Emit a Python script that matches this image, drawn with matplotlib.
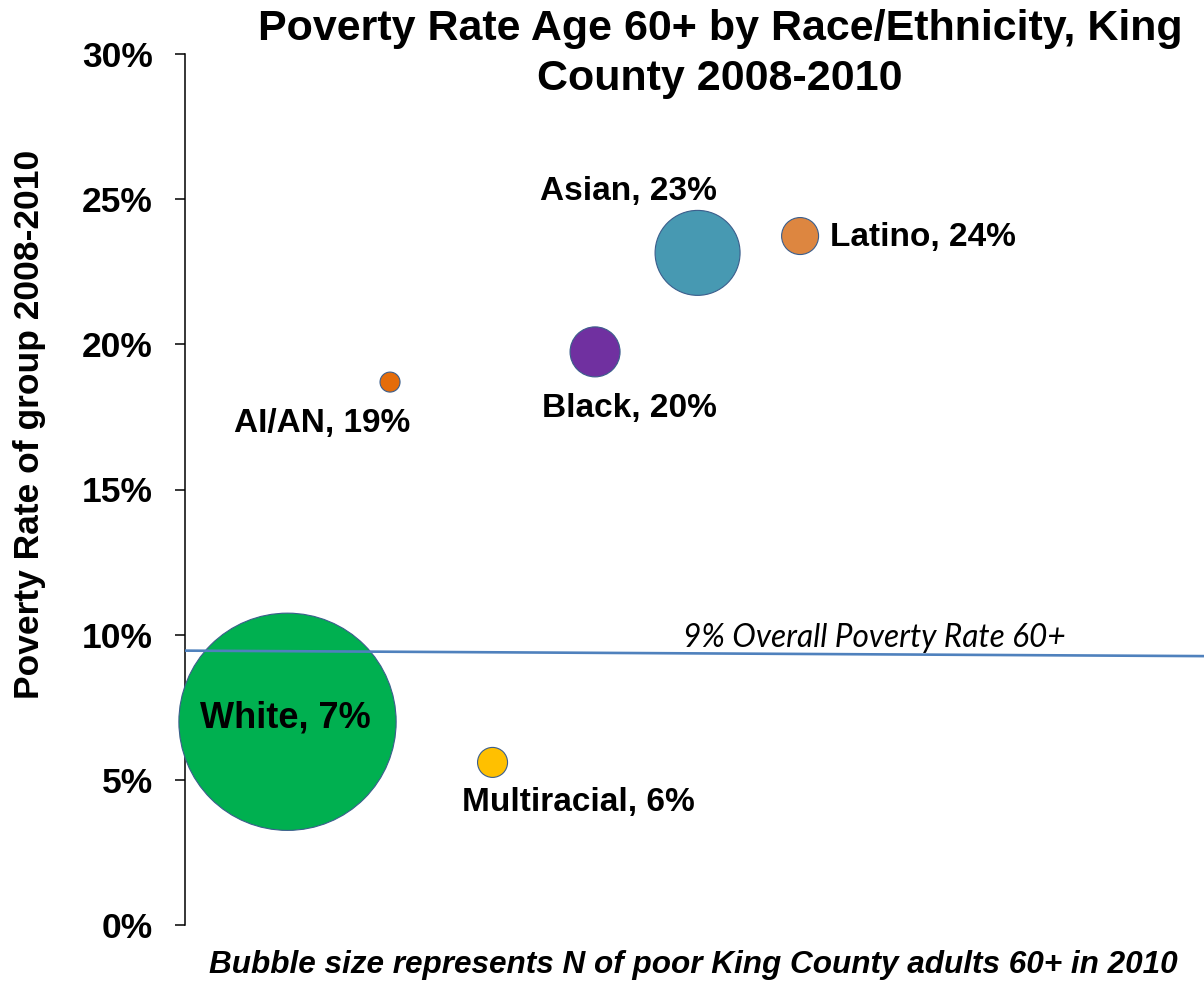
import matplotlib
matplotlib.use("Agg")
import matplotlib.pyplot as plt
from matplotlib.ticker import FuncFormatter

# ---- data ----
groups = ["White", "AI/AN", "Multiracial", "Black", "Asian", "Latino"]
x_pos = [1, 2, 3, 4, 5, 6]
poverty_rate = [7.0, 18.7, 5.6, 19.74, 23.15, 23.73]   # percent
n_poor = [11800, 100, 225, 625, 1806, 342]            # relative bubble size (estimated)
labels = ["White, 7%", "AI/AN, 19%", "Multiracial, 6%", "Black, 20%", "Asian, 23%", "Latino, 24%"]
colors = ["#00B050", "#E46C0A", "#FFC000", "#7030A0", "#4799B2", "#DD8640"]
overall_x = [0, 10]
overall_y = [9.45, 9.26]
y_ticks = [0, 5, 10, 15, 20, 25, 30]

# ---- figure ----
W, H = 1204, 983
fig = plt.figure(figsize=(W / 100, H / 100), dpi=100)
ax = fig.add_axes([185 / W, 1 - 925 / H, 1 - 185 / W, (925 - 54) / H])

size_scale = 2.0736
ax.scatter(x_pos, poverty_rate, s=[n * size_scale for n in n_poor], c=colors,
           edgecolors="#3B5E8C", linewidths=0.8, zorder=3, clip_on=False)
ax.plot(overall_x, overall_y, color="#4F81BD", lw=1.9, zorder=4)

bold = dict(family="Liberation Sans", fontweight="bold")
offsets = {
    "White": (-1.5, 2.5, "center", 26),
    "AI/AN": (-49, -30, "center", 24),
    "Multiracial": (62, -29, "center", 24),
    "Black": (24.5, -41, "center", 24),
    "Asian": (-50, 44, "center", 24),
    "Latino": (21.6, -1, "left", 24),
}
for g, xv, yv, lab in zip(groups, x_pos, poverty_rate, labels):
    dx, dy, ha, fs = offsets[g]
    ax.annotate(lab, (xv, yv), xytext=(dx, dy), textcoords="offset points",
                ha=ha, va="center", fontsize=fs, zorder=5, **bold)

ax.annotate("9% Overall Poverty Rate 60+", xy=(0, 0), xycoords="figure pixels",
            xytext=(683, H - 647), textcoords="figure pixels",
            ha="left", va="baseline", fontsize=22.8, fontstyle="italic",
            family=["Lato", "DejaVu Sans"])

ax.set_xlim(0, 9.94)
ax.set_ylim(0, 30)
ax.set_yticks(y_ticks)
ax.yaxis.set_major_formatter(FuncFormatter(lambda v, p: f"{v:.0f}%"))
ax.tick_params(axis="y", direction="out", length=7.2, width=1.1, pad=16, labelsize=25.5)
for t in ax.get_yticklabels():
    t.set_fontweight("bold")
    t.set_family("Liberation Sans")
ax.set_xticks([])
for s in ["top", "right", "bottom"]:
    ax.spines[s].set_visible(False)
ax.spines["left"].set_linewidth(1.1)

fig.text(720 / W, 1 - 54 / H, "Poverty Rate Age 60+ by Race/Ethnicity, King\nCounty 2008-2010",
         ha="center", va="center", fontsize=31, linespacing=1.3, **bold)
fig.text(30 / W, 1 - 424 / H, "Poverty Rate of group 2008-2010", rotation=90,
         ha="center", va="center", fontsize=25.5, **bold)
fig.text(693 / W, 1 - 965 / H, "Bubble size represents N of poor King County adults 60+ in 2010",
         ha="center", va="center", fontsize=22.7, fontweight="bold", fontstyle="italic",
         family="Liberation Sans")

fig.savefig("out.png", dpi=100)
